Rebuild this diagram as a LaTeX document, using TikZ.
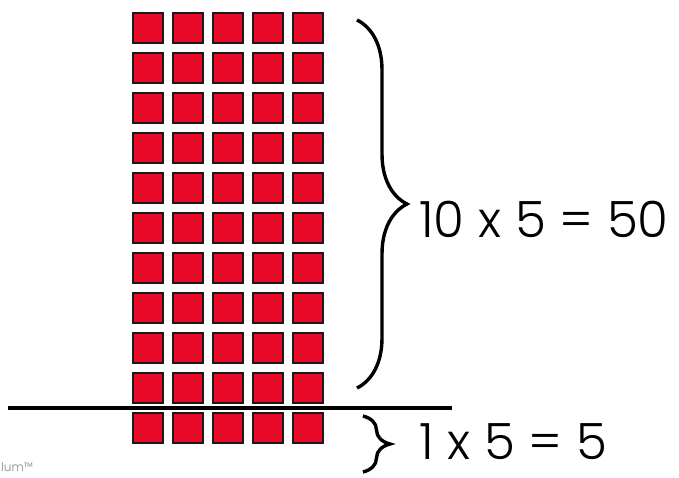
\documentclass[tikz,border=0pt]{standalone}
\usepackage{fontspec}
\setmainfont{Poppins Light}
\usetikzlibrary{decorations.pathreplacing, positioning}
\definecolor{tilered}{HTML}{E60A28}
\definecolor{tileborder}{HTML}{1A1A1A}
\definecolor{notegray}{HTML}{8A8A8A}

\begin{document}
\begin{tikzpicture}[x=1pt, y=-1pt,
    tile/.style={draw=tileborder, fill=tilered, line width=2.2pt,
      minimum size=30pt, inner sep=0pt},
    curly/.style={decorate, decoration={brace, amplitude=#1},
      line width=3.4pt},
    product/.style={anchor=base west, inner sep=0pt, text depth=0pt,
      font=\fontsize{50}{52}\selectfont}]
  \useasboundingbox (0,0) rectangle (679,477);

  % 11 rows of 5 tiles
  \foreach \r in {1,...,11} {
    \foreach \c in {1,...,5} {
      \node[tile] (sq-\r-\c) at ({148+40*(\c-1)},{28+40*(\r-1)}) {};
    }
  }

  % dividing line
  \coordinate (lineL) at (8,408);
  \coordinate (lineR) at (452,408);
  \draw[line width=3.4pt] (lineL) -- (lineR);

  % braces
  \coordinate (bigtop) at (357,20);
  \coordinate (bigbot) at (357,388);
  \draw[curly=50pt] (bigtop) -- (bigbot);
  \coordinate (smalltop) at (363,416);
  \coordinate (smallbot) at (363,472);
  \draw[curly=27pt] (smalltop) -- (smallbot);

  \node[product] (prodtop) at (419,237) {10 x 5 = 50};
  \node[product] (prodbot) at (419,459) {1 x 5 = 5};

  \node[anchor=base west, inner sep=0pt, text depth=0pt, text=notegray,
    font=\fontsize{12}{12}\selectfont] (note) at (1,471) {lum™};
\end{tikzpicture}
\end{document}
